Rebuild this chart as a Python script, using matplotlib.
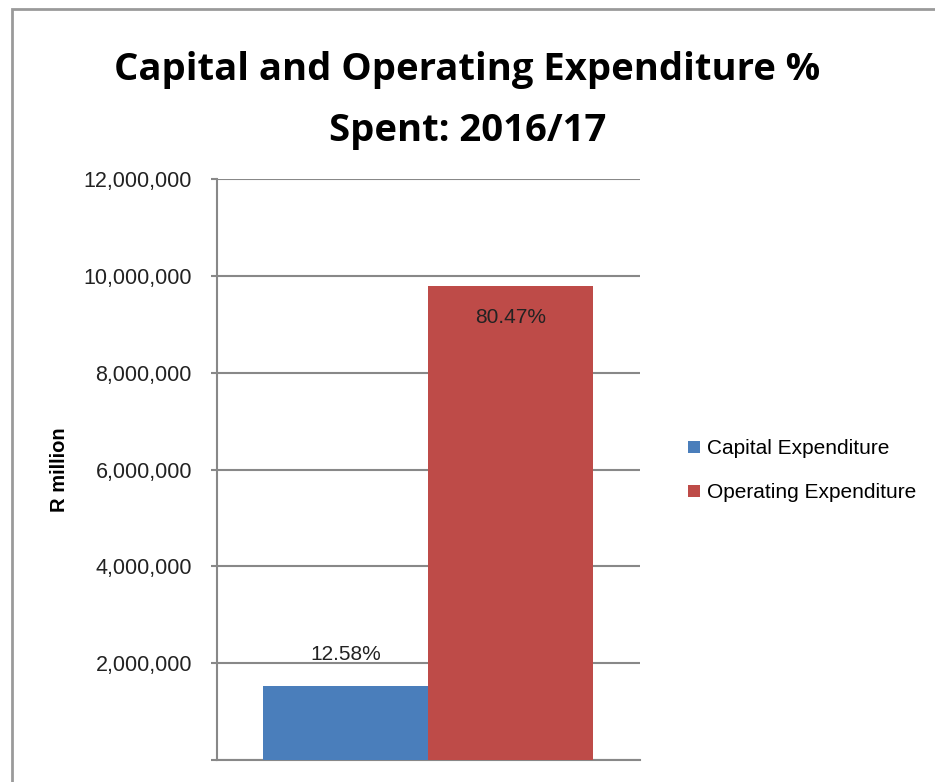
import matplotlib.pyplot as plt
from matplotlib.patches import Rectangle
from matplotlib.ticker import FuncFormatter

# Expenditure for 2016/17 (R million) and share of budget spent
series = ["Capital Expenditure", "Operating Expenditure"]
amounts = [1530000, 9790000]
pct_spent = ["12.58%", "80.47%"]
colors = ["#4a7ebb", "#be4b48"]
y_ticks = [0, 2000000, 4000000, 6000000, 8000000, 10000000, 12000000]

plt.rcParams['font.family'] = ['Liberation Sans', 'DejaVu Sans']

fig = plt.figure(figsize=(9.35, 7.82), dpi=100)
ax = fig.add_axes([0.232, 0.028, 0.452, 0.743])

width = 0.39
offsets = [-width / 2, width / 2]
bars = []
for name, val, col, off in zip(series, amounts, colors, offsets):
    b = ax.bar(off, val, width=width, color=col, label=name, zorder=3)
    bars.append(b[0])

# value labels: capital above its bar, operating inside the top
ax.annotate(pct_spent[0], (offsets[0], amounts[0]), xytext=(0, 16),
            textcoords="offset points", ha="center", va="bottom",
            fontsize=15, color="#222222")
ax.annotate(pct_spent[1], (offsets[1], amounts[1]), xytext=(0, -16),
            textcoords="offset points", ha="center", va="top",
            fontsize=15, color="#222222")

ax.set_xlim(-0.5, 0.5)
ax.set_ylim(0, 12000000)
ax.set_yticks(y_ticks)
ax.yaxis.set_major_formatter(FuncFormatter(lambda v, p: "" if v == 0 else f"{int(v):,}"))
ax.set_xticks([])
ax.tick_params(axis="y", length=4, width=1.5, color="#888888", labelsize=15.5,
               labelcolor="#222222", pad=14)
ax.grid(axis="y", color="#888888", linewidth=1.5, zorder=0)
for s in ["top", "right"]:
    ax.spines[s].set_visible(False)
for s in ["left", "bottom"]:
    ax.spines[s].set_color("#888888")
    ax.spines[s].set_linewidth(1.5)

ax.set_ylabel("R million", fontsize=14.5, fontweight="bold")
ax.yaxis.set_label_coords(-0.35, 0.5)

fig.text(0.50, 0.910, "Capital and Operating Expenditure %", ha="center", va="center",
         fontsize=27.5, fontweight="bold", family="Open Sans")
fig.text(0.50, 0.833, "Spent: 2016/17", ha="center", va="center",
         fontsize=27.5, fontweight="bold", family="Open Sans")

leg = fig.legend(handles=bars, labels=series, loc="center left",
                 bbox_to_anchor=(0.716, 0.398), frameon=False, fontsize=15,
                 handlelength=0.55, handleheight=0.55, handletextpad=0.35,
                 labelspacing=1.2)

# outer chart border
fig.patches.append(Rectangle((12 / 935, -0.05), 1.2, 1 - 9 / 782 + 0.05,
                             transform=fig.transFigure, fill=False,
                             edgecolor="#9a9a9a", linewidth=2))

fig.savefig("out.png", dpi=100)
